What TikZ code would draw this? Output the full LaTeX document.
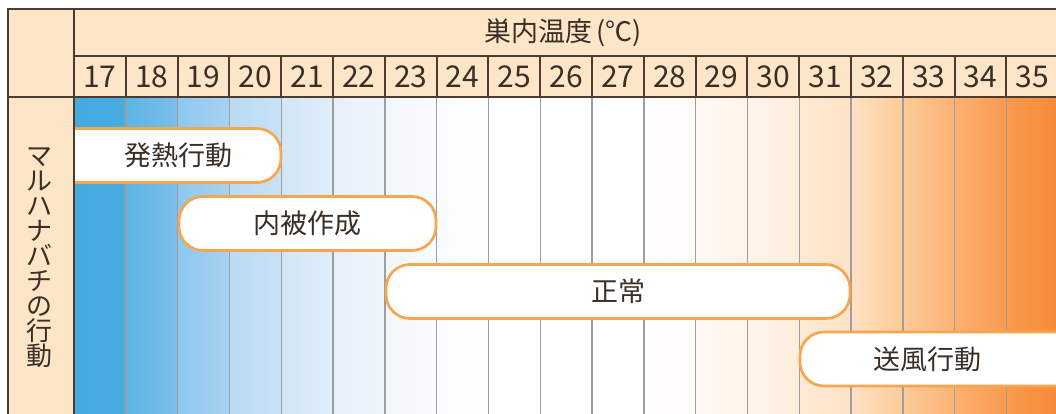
\documentclass[tikz,border=0pt]{standalone}
\usepackage{fontspec}
\setmainfont{Noto Sans CJK JP}
\definecolor{hdr}{HTML}{FDE6C8}
\definecolor{framec}{HTML}{4A3C30}
\definecolor{gridgrey}{HTML}{9E9E9E}
\definecolor{boxline}{HTML}{F8A64E}
\definecolor{txt}{HTML}{3A2E25}
\tikzset{
  pill/.style={draw=boxline, line width=2.7pt, fill=white, rounded corners=24pt,
    rectangle, minimum height=54pt, inner sep=0pt},
  pilltext/.style={text=txt, font=\fontsize{27}{27}\selectfont, inner sep=0pt},
  numtext/.style={text=txt, font=\fontsize{30}{30}\selectfont, inner sep=0pt},
  darkline/.style={draw=framec, line width=2pt},
  greyline/.style={draw=gridgrey, line width=1.4pt},
}
\begin{document}
\begin{tikzpicture}[x=1pt,y=-1pt]
\useasboundingbox (0,0) rectangle (1056,414);
% header fills
\fill[hdr] (8,9) rectangle (1060,97);
\fill[hdr] (8,97) rectangle (74,414);
% body gradient columns
\foreach \i/\l/\r in {0/44AAE0/48ACE1, 1/5CB4E6/7CBEE9, 2/8CC8EE/A8D2F2, 3/B8DBF4/C9E1F6,
  4/D2E6F7/E0EDF9, 5/E6F0FA/F0F5FC, 6/F2F7FD/F8FBFE, 7/F8FBFE/FFFFFF,
  8/FFFFFF/FFFFFF, 9/FFFFFF/FFFFFF, 10/FFFFFF/FFFFFF, 11/FFFFFF/FFFBF7,
  12/FFF9F4/FFF3E9, 13/FFF4EA/FEEDDC, 14/FEEAD6/FEE2C6, 15/FEE2C4/FDCA98,
  16/FDCA98/FCB274, 17/FDB072/F99A50, 18/F99A4E/F68A38}{
  \definecolor{cl}{HTML}{\l}\definecolor{cr}{HTML}{\r}
  \shade[left color=cl, right color=cr] ({74+\i*51.8},97) rectangle ({74+(\i+1)*51.8+0.5},414);
}
% grid separators
\foreach \i in {1,...,18}{
  \draw[darkline] ({74+\i*51.8},56) -- ({74+\i*51.8},97);
  \draw[greyline] ({74+\i*51.8},97) -- ({74+\i*51.8},414);
}
% frame lines
\draw[darkline] (1060,9) -- (8,9) -- (8,414);
\draw[darkline] (74,9) -- (74,414);
\draw[darkline] (74,56) -- (1060,56);
\draw[darkline] (8,97) -- (1060,97);
% header texts
\node[text=txt, font=\fontsize{27}{27}\selectfont, inner sep=0pt] (title) at (563,33) {巣内温度\,(℃)};
\foreach \n [count=\k from 0] in {17,18,19,20,21,22,23,24,25,26,27,28,29,30,31,32,33,34,35}{
  \node[numtext] (n\n) at ({74+\k*51.8+25.9},76.5) {\n};
}
\node[text=txt, font=\fontsize{26}{25}\selectfont, align=center, inner sep=0pt] (side) at (40,258)
  {マ\\ル\\ハ\\ナ\\バ\\チ\\の\\行\\動};
% pills
\begin{scope}
\clip (75,97) rectangle (1056,414);
\node[pill, minimum width=241pt] (p1) at (160.5,155.5) {};
\node[pill, minimum width=257pt] (p2) at (307.5,223.5) {};
\node[pill, minimum width=464pt] (p3) at (618,291.5) {};
\node[pill, minimum width=300pt] (p4) at (950,359) {};
\end{scope}
\node[pilltext] (t1) at (178,155.5) {発熱行動};
\node[pilltext] (t2) at (307.5,223.5) {内被作成};
\node[pilltext] (t3) at (618,291.5) {正常};
\node[pilltext] (t4) at (927.5,359) {送風行動};
\end{tikzpicture}
\end{document}
